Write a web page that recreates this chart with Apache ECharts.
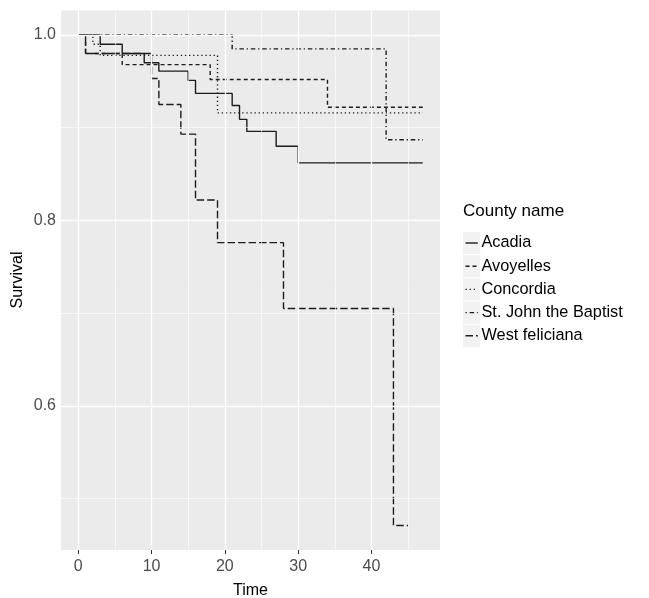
<!DOCTYPE html>
<html><head><meta charset="utf-8">
<script src="https://cdn.jsdelivr.net/npm/echarts@6/dist/echarts.min.js"></script>
<style>html,body{margin:0;padding:0;background:#fff}#c{width:649px;height:598px}</style>
</head><body><div id="c"></div>
<script>
// ---- data ----
const seriesNames = ['Acadia', 'Avoyelles', 'Concordia', 'St. John the Baptist', 'West feliciana'];
const acadiaTime = [0, 3, 6, 9, 11, 15, 16, 21, 22, 23, 27, 30, 47];
const acadiaSurv = [1, 0.990, 0.980, 0.970, 0.961, 0.951, 0.937, 0.924, 0.909, 0.896, 0.880, 0.862, 0.862];
const avoyellesTime = [0, 1, 6, 18, 34, 47];
const avoyellesSurv = [1, 0.980, 0.968, 0.952, 0.922, 0.922];
const concordiaTime = [0, 2, 3, 19, 47];
const concordiaSurv = [1, 0.990, 0.978, 0.916, 0.916];
const stJohnTime = [0, 21, 42, 47];
const stJohnSurv = [1, 0.985, 0.887, 0.887];
const westTime = [0, 1, 10, 11, 14, 16, 19, 28, 43, 45];
const westSurv = [1, 0.980, 0.953, 0.925, 0.893, 0.822, 0.776, 0.705, 0.471, 0.471];
const xTicks = [0, 10, 20, 30, 40];
const yTicks = [0.6, 0.8, 1.0];
const xMinorGrid = [5, 15, 25, 35, 45];
const yMinorGrid = [0.5, 0.7, 0.9];
const axisNames = { x: 'Time', y: 'Survival' };
const legendTitle = 'County name';

// ---- styling ----
const FONT = 'Liberation Sans, Arial, Helvetica, sans-serif';
const LINE_COLOR = '#1c1c1c';
const LINE_W = 1.4;
const dashes = ['solid', [4, 3], [1.3, 2.8], [1.3, 2.8, 4.5, 2.8], [7.5, 3]];
const times = [acadiaTime, avoyellesTime, concordiaTime, stJohnTime, westTime];
const survs = [acadiaSurv, avoyellesSurv, concordiaSurv, stJohnSurv, westSurv];

const X_MIN = -2.35, X_MAX = 49.35;
const Y_MIN = 0.4445, Y_MAX = 1.0265;

const gridLines = [];
xTicks.forEach(v => gridLines.push({ xAxis: v, lineStyle: { width: 1.3 } }));
xMinorGrid.forEach(v => gridLines.push({ xAxis: v, lineStyle: { width: 0.6 } }));
yTicks.forEach(v => gridLines.push({ yAxis: v, lineStyle: { width: 1.3 } }));
yMinorGrid.forEach(v => gridLines.push({ yAxis: v, lineStyle: { width: 0.6 } }));

const series = [{
  type: 'line', name: '_grid', data: [], z: 1, silent: true,
  markLine: {
    silent: true, symbol: 'none', animation: false,
    label: { show: false },
    lineStyle: { color: '#ffffff', type: 'solid' },
    emphasis: { disabled: true },
    data: gridLines
  }
}];
seriesNames.forEach((name, i) => {
  series.push({
    type: 'line', name: name, step: 'end', showSymbol: false, symbol: 'none',
    z: 3, animation: false, silent: true,
    lineStyle: { color: LINE_COLOR, width: LINE_W, type: dashes[i], cap: 'butt' },
    data: times[i].map((t, k) => [t, survs[i][k]])
  });
});

// ---- legend and y title drawn as graphics ----
const LX = 463, LY0 = 243, LSTEP = 23.2;
const graphic = [{
  type: 'text', x: LX, y: 211,
  style: { text: legendTitle, font: '17px ' + FONT, fill: '#000', verticalAlign: 'middle' }
}, {
  type: 'text', x: 18, y: 280, rotation: Math.PI / 2,
  style: { text: axisNames.y, font: '16px ' + FONT, fill: '#000', align: 'center', verticalAlign: 'middle' }
}];
seriesNames.forEach((name, i) => {
  const cy = LY0 + i * LSTEP;
  graphic.push({
    type: 'rect', shape: { x: LX, y: cy - 11, width: 17.3, height: 22 },
    style: { fill: '#F2F2F2' }
  });
  graphic.push({
    type: 'line', shape: { x1: LX + 2.5, y1: cy, x2: LX + 14.8, y2: cy },
    style: { stroke: LINE_COLOR, lineWidth: LINE_W, lineDash: dashes[i] === 'solid' ? null : dashes[i] }
  });
  graphic.push({
    type: 'text', x: LX + 18.5, y: cy,
    style: { text: name, font: '16.3px ' + FONT, fill: '#000', verticalAlign: 'middle' }
  });
});

const chart = echarts.init(document.getElementById('c'), null, { renderer: 'canvas' });
chart.setOption({
  animation: false,
  backgroundColor: '#ffffff',
  grid: { left: 61, right: 209, top: 10.4, bottom: 48, show: true, backgroundColor: '#EBEBEB', borderWidth: 0,
    containLabel: false, outerBoundsMode: 'none' },
  xAxis: {
    type: 'value', min: X_MIN, max: X_MAX,
    name: axisNames.x, nameLocation: 'middle', nameGap: 33,
    nameTextStyle: { fontFamily: FONT, fontSize: 16, color: '#000' },
    axisLine: { show: false },
    axisTick: { show: true, length: 4, customValues: xTicks, lineStyle: { color: '#333333', width: 1 } },
    axisLabel: { customValues: xTicks, margin: 9, fontFamily: FONT, fontSize: 16, color: '#4D4D4D' },
    splitLine: { show: false }
  },
  yAxis: {
    type: 'value', min: Y_MIN, max: Y_MAX,
    axisLine: { show: false },
    axisTick: { show: true, length: 4, customValues: yTicks, lineStyle: { color: '#333333', width: 1 } },
    axisLabel: { customValues: yTicks, margin: 5, fontFamily: FONT, fontSize: 16, color: '#4D4D4D',
      formatter: v => v.toFixed(1) },
    splitLine: { show: false }
  },
  series: series,
  graphic: graphic
});
</script>
</body></html>
